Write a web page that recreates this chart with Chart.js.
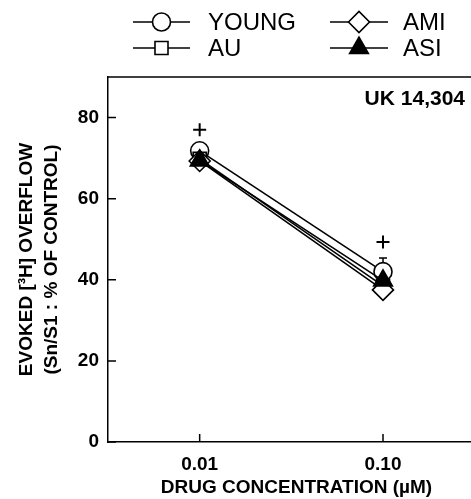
<!DOCTYPE html>
<html>
<head>
<meta charset="utf-8">
<script src="https://cdn.jsdelivr.net/npm/chart.js@4.4.1/dist/chart.umd.min.js"></script>
<style>
html,body{margin:0;padding:0;background:#fff;overflow:hidden;}
#wrap{width:471px;height:499px;position:relative;}
</style>
</head>
<body>
<div id="wrap"><canvas id="c" width="471" height="499"></canvas></div>
<script>
const categories = ['0.01', '0.10'];
const seriesNames = ['YOUNG', 'AU', 'AMI', 'ASI'];
const youngValues = [71.8, 42.0];
const youngErrors = [0, 3.4];
const auValues = [69.8, 38.5];
const amiValues = [69.3, 37.5];
const asiValues = [69.4, 39.8];
const significanceValues = [77, 49.3];
const yTickValues = [0, 20, 40, 60, 80];
const chartTitle = 'UK 14,304';
const xTitle = 'DRUG CONCENTRATION (\u00B5M)';
const yTitle = ['EVOKED [\u00B3H] OVERFLOW', '(Sn/S1 : % OF CONTROL)'];

const FONT = '"Liberation Sans", Arial, Helvetica, sans-serif';
const toPts = arr => arr.map((v, i) => ({x: i + 1, y: v}));

const base = {
  borderColor: '#000', borderWidth: 1.6, pointBorderColor: '#000',
  pointBorderWidth: 1.6, pointBackgroundColor: '#fff', fill: false, tension: 0
};
const datasets = [
  Object.assign({}, base, {label: seriesNames[0], data: toPts(youngValues), pointStyle: 'circle', pointRadius: 9, order: 4}),
  Object.assign({}, base, {label: seriesNames[1], data: toPts(auValues), pointStyle: 'rect', pointRadius: 9.2, order: 3}),
  Object.assign({}, base, {label: seriesNames[2], data: toPts(amiValues), pointStyle: 'rectRot', pointRadius: 10.5, order: 2}),
  Object.assign({}, base, {label: seriesNames[3], data: toPts(asiValues), pointStyle: 'triangle', pointRadius: 10.8, pointBackgroundColor: '#000', order: 1}),
  {label: 'sig', data: toPts(significanceValues), showLine: false, pointStyle: 'cross', pointRadius: 6.5,
   pointBorderColor: '#000', pointBorderWidth: 2, borderColor: '#000', order: 0}
];

const decor = {
  id: 'decor',
  beforeDatasetsDraw(chart) {
    const ctx = chart.ctx, xs = chart.scales.x, ys = chart.scales.y;
    ctx.save();
    ctx.strokeStyle = '#000'; ctx.lineWidth = 1.5;
    youngValues.forEach((v, i) => {
      const e = youngErrors[i];
      if (!e) return;
      const px = xs.getPixelForValue(i + 1);
      const top = ys.getPixelForValue(v + e), mid = ys.getPixelForValue(v);
      ctx.beginPath(); ctx.moveTo(px, mid); ctx.lineTo(px, top);
      ctx.moveTo(px - 4, top); ctx.lineTo(px + 4, top); ctx.stroke();
    });
    ctx.restore();
  },
  afterDraw(chart) {
    const ctx = chart.ctx, a = chart.chartArea, xs = chart.scales.x, ys = chart.scales.y;
    ctx.save();
    ctx.strokeStyle = '#000'; ctx.lineWidth = 1.5;
    ctx.beginPath(); ctx.moveTo(a.left, a.top); ctx.lineTo(a.right + 2, a.top); ctx.stroke();
    ctx.beginPath();
    yTickValues.forEach(v => { const py = ys.getPixelForValue(v); ctx.moveTo(a.left, py); ctx.lineTo(a.left + 8, py); });
    categories.forEach((c, i) => { const px = xs.getPixelForValue(i + 1); ctx.moveTo(px, a.bottom); ctx.lineTo(px, a.bottom - 8); });
    ctx.stroke();
    ctx.fillStyle = '#000';
    ctx.font = 'bold 21px ' + FONT;
    ctx.textAlign = 'right'; ctx.textBaseline = 'middle';
    ctx.fillText(chartTitle, 465, a.top + 22);
    ctx.font = 'bold 19px ' + FONT;
    ctx.textAlign = 'center';
    ctx.fillText(xTitle, (a.left + a.right) / 2 + 7, 488);
    const cols = [[133, 190, 208], [330, 388, 403]];
    const rows = [22, 48];
    const legendOrder = [[0, 0, 0], [2, 0, 1], [1, 1, 0], [3, 1, 1]];
    ctx.font = '24px ' + FONT;
    ctx.textAlign = 'left';
    legendOrder.forEach(([di, r, cIdx]) => {
      const ds = chart.data.datasets[di];
      const [x1, x2, tx] = cols[cIdx];
      const y = rows[r];
      ctx.lineWidth = 1.6; ctx.strokeStyle = '#000';
      ctx.beginPath(); ctx.moveTo(x1, y); ctx.lineTo(x2, y); ctx.stroke();
      ctx.fillStyle = ds.pointBackgroundColor;
      Chart.helpers.drawPoint(ctx, {pointStyle: ds.pointStyle, radius: ds.pointRadius, borderWidth: 1.6, rotation: 0}, (x1 + x2) / 2, y);
      ctx.fillStyle = '#000';
      ctx.fillText(ds.label, tx, y + 1);
    });
    ctx.restore();
  }
};

new Chart(document.getElementById('c'), {
  type: 'line',
  data: {datasets},
  options: {
    responsive: false, animation: false,
    layout: {autoPadding: false, padding: {top: 77, right: 0, left: 0, bottom: 0}},
    plugins: {legend: {display: false}, tooltip: {enabled: false}},
    scales: {
      x: {
        type: 'linear', min: 0.5, max: 2.48,
        afterBuildTicks: s => { s.ticks = categories.map((c, i) => ({value: i + 1})); },
        afterFit: s => { s.height = 57; s.paddingRight = 0; s.paddingLeft = 0; },
        grid: {display: false, drawTicks: false},
        border: {display: true, color: '#000', width: 1.5},
        ticks: {color: '#000', font: {family: FONT, size: 19, weight: 'bold'}, padding: 11,
                maxRotation: 0, autoSkip: false,
                callback: v => categories[v - 1]}
      },
      y: {
        min: 0, max: 90,
        afterBuildTicks: s => { s.ticks = yTickValues.map(v => ({value: v})); },
        afterFit: s => { s.width = 108; s.paddingTop = 0; s.paddingBottom = 0; },
        grid: {display: false, drawTicks: false},
        border: {display: true, color: '#000', width: 1.5},
        ticks: {color: '#000', font: {family: FONT, size: 19, weight: 'bold'}, padding: 9},
        title: {display: true, text: yTitle, color: '#000',
                font: {family: FONT, size: 19, weight: 'bold', lineHeight: '25px'},
                padding: {top: 14.5, bottom: 0}}
      }
    }
  },
  plugins: [decor]
});
</script>
</body>
</html>
